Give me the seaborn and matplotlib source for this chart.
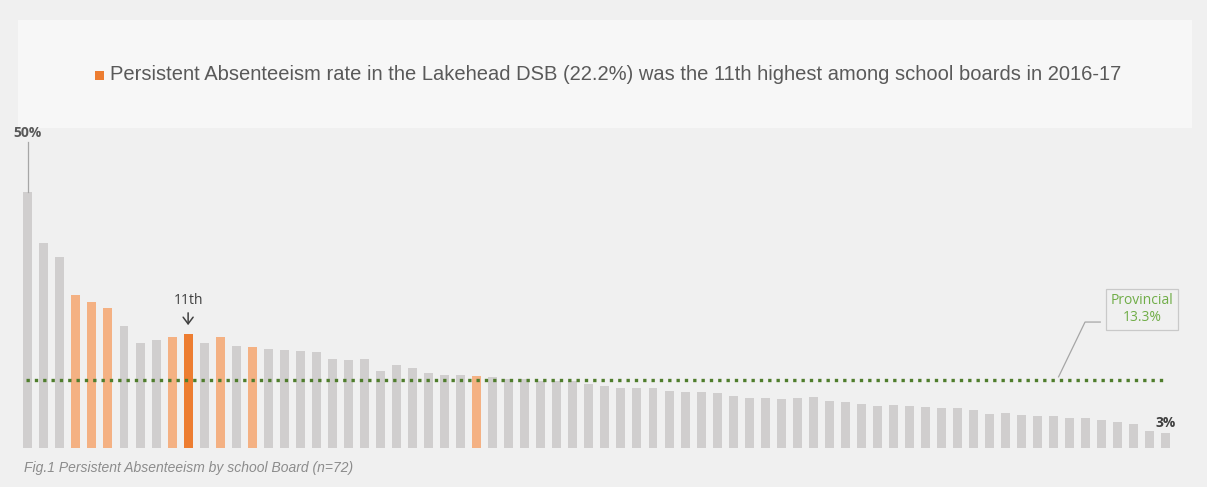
#!/usr/bin/env python3
"""
Persistent Absenteeism by school board (n=72), Lakehead DSB highlighted.
"""

import matplotlib
matplotlib.use("Agg")
import matplotlib.pyplot as plt
from matplotlib.patches import Rectangle
import pandas as pd
import seaborn as sns

# Data (sorted roughly as drawn)
rates = [
    50.0, 40.0, 37.4, 29.9, 28.5, 27.4, 23.9, 20.6, 21.1, 21.7,
    22.2, 20.6, 21.7, 20.0, 19.7, 19.3, 19.1, 18.9, 18.7, 17.3,
    17.2, 17.4, 15.0, 16.3, 15.6, 14.7, 14.3, 14.3, 14.1, 13.8,
    13.5, 13.4, 13.1, 13.0, 13.0, 12.5, 12.2, 11.8, 11.7, 11.8,
    11.1, 11.0, 10.9, 10.7, 10.2, 9.8, 9.8, 9.5, 9.8, 9.9,
    9.2, 8.9, 8.5, 8.3, 8.4, 8.3, 8.1, 7.9, 7.8, 7.5,
    6.6, 6.9, 6.4, 6.3, 6.2, 5.9, 5.9, 5.5, 5.1, 4.6,
    3.3, 2.9,
]
boards = [f"Board {i + 1}" for i in range(len(rates))]
# Boards shaded light orange (comparison group) and the Lakehead DSB itself
comparison_boards = [4, 5, 6, 10, 13, 15, 29]
lakehead_board = 11
provincial_rate = 13.3

TITLE = ("Persistent Absenteeism rate in the Lakehead DSB (22.2%) was the "
         "11th highest among school boards in 2016-17")
CAPTION = "Fig.1 Persistent Absenteeism by school Board (n=72)"

# Colours
BG = "#f0f0f0"
PANEL = "#f7f7f7"
GREY_BAR = "#d0cece"
LIGHT_ORANGE = "#f4b183"
ORANGE = "#ed7d31"
GREEN_LINE = "#4f7d2c"
GREEN_TEXT = "#70ad47"


def build_frame():
    groups = []
    for i in range(len(rates)):
        n = i + 1
        if n == lakehead_board:
            groups.append("lakehead")
        elif n in comparison_boards:
            groups.append("comparison")
        else:
            groups.append("other")
    return pd.DataFrame({"board": boards, "rate": rates, "group": groups})


def main():
    df = build_frame()

    W, H, DPI = 1207, 487, 100
    fig = plt.figure(figsize=(W / DPI, H / DPI), dpi=DPI, facecolor=BG)

    # Title panel (kept underneath the axes so the 50% label stays on top)
    fig.patches.append(Rectangle((18 / W, 1 - 128 / H), (1192 - 18) / W, (128 - 20) / H,
                                 transform=fig.transFigure, facecolor=PANEL,
                                 edgecolor="none", zorder=-2))
    fig.patches.append(Rectangle((95 / W, 1 - 80 / H), 9 / W, 9 / H,
                                 transform=fig.transFigure, facecolor=ORANGE,
                                 edgecolor="none", zorder=-1))
    fig.text(110 / W, 1 - 75 / H, TITLE, fontsize=14.5, color="#595959",
             family="Liberation Sans", va="center", ha="left")

    # Bars axes
    ax = fig.add_axes([18.2 / W, 39 / H, (1175.6 - 18.2) / W, 62 * 5.12 / H])
    ax.patch.set_alpha(0)
    sns.barplot(data=df, x="board", y="rate", hue="group",
                palette={"other": GREY_BAR, "comparison": LIGHT_ORANGE, "lakehead": ORANGE},
                dodge=False, width=0.56, saturation=1, legend=False, ax=ax)
    ax.set_xlim(-0.6, len(rates) - 0.4)
    ax.set_ylim(0, 62)
    ax.set_axis_off()

    # Provincial average line
    ax.plot([-0.1, 70.8], [provincial_rate, provincial_rate], color=GREEN_LINE,
            linestyle=(0, (1, 1.5)), linewidth=2.4, zorder=3)
    ax.plot([64.3, 65.95, 66.9], [13.9, 24.6, 24.6], color="#a6a6a6", linewidth=0.9, zorder=3)
    ax.text(69.5, 27.1, f"Provincial\n{provincial_rate}%", ha="center", va="center",
            fontsize=10, color=GREEN_TEXT, family="Open Sans", linespacing=1.15,
            bbox=dict(boxstyle="square,pad=0.35", facecolor=BG, edgecolor="#c9c9c9",
                      linewidth=0.9), zorder=4)

    # Max / min labels
    ax.plot([0, 0], [rates[0], 59.8], color="#a6a6a6", linewidth=0.9, clip_on=False)
    ax.text(0, 61.6, "50%", ha="center", va="center", fontsize=10, fontweight="bold",
            color="#595959", family="Open Sans", clip_on=False, zorder=5)
    ax.text(len(rates) - 1, 4.9, "3%", ha="center", va="center", fontsize=10,
            fontweight="bold", color="#404040", family="Open Sans")

    # Lakehead rank label
    ax.text(lakehead_board - 1, 28.9, "11th", ha="center", va="center", fontsize=10,
            color="#404040", family="Open Sans")
    ax.annotate("", xy=(lakehead_board - 1, 24.0), xytext=(lakehead_board - 1, 26.4),
                arrowprops=dict(arrowstyle="->,head_length=0.4,head_width=0.3",
                                color="#404040", linewidth=1.1, mutation_scale=12,
                                shrinkA=0, shrinkB=0))

    # Caption
    fig.text(24 / W, 1 - 468 / H, CAPTION, fontsize=10, style="italic", color="#8c8c8c",
             family="Liberation Sans", va="center", ha="left")

    fig.savefig("out.png", dpi=DPI, facecolor=BG)
    plt.close(fig)


if __name__ == "__main__":
    main()
